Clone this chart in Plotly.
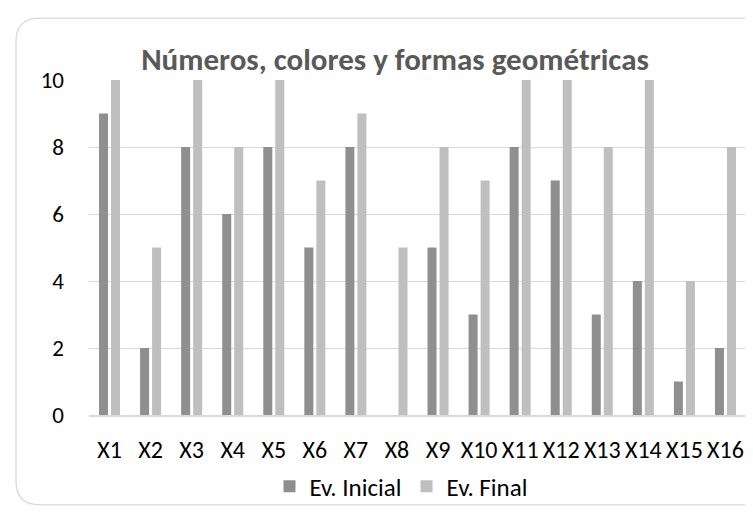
import plotly.graph_objects as go

categories = ["X1", "X2", "X3", "X4", "X5", "X6", "X7", "X8", "X9", "X10",
              "X11", "X12", "X13", "X14", "X15", "X16"]
ev_inicial = [9, 2, 8, 6, 8, 5, 8, 0, 5, 3, 8, 7, 3, 4, 1, 2]
ev_final = [10, 5, 10, 8, 10, 7, 9, 5, 8, 7, 10, 10, 8, 10, 4, 8]
y_ticks = [0, 2, 4, 6, 8, 10]

W, H = 753, 513
L, R, T, B = 81, 738, 72, 419

FONT = "Carlito, Lato, sans-serif"

def px(x):
    return (x - L) / (R - L)

def py(y):
    return (B - y) / (B - T)

fig = go.Figure()
fig.add_trace(go.Bar(x=categories, y=ev_inicial, name="Ev. Inicial",
                     marker=dict(color="#8f8f8f", line=dict(width=0))))
fig.add_trace(go.Bar(x=categories, y=ev_final, name="Ev. Final",
                     marker=dict(color="#bfbfbf", line=dict(width=0))))

# rounded chart border (right edge lies just outside the picture)
x0, y0, x1, y1, r = 8, 8, 770, 512, 24
path = (f"M {px(x0 + r)},{py(y0)} L {px(x1 - r)},{py(y0)} "
        f"Q {px(x1)},{py(y0)} {px(x1)},{py(y0 + r)} "
        f"L {px(x1)},{py(y1 - r)} Q {px(x1)},{py(y1)} {px(x1 - r)},{py(y1)} "
        f"L {px(x0 + r)},{py(y1)} Q {px(x0)},{py(y1)} {px(x0)},{py(y1 - r)} "
        f"L {px(x0)},{py(y0 + r)} Q {px(x0)},{py(y0)} {px(x0 + r)},{py(y0)} Z")

fig.update_layout(
    width=W, height=H,
    margin=dict(l=L, r=W - R, t=T, b=H - B),
    paper_bgcolor="white", plot_bgcolor="white",
    barmode="group", bargap=0.415, bargroupgap=0.25,
    font=dict(family=FONT, color="black", size=23),
    title=dict(text="<b>Números, colores y formas geométricas</b>",
               x=387 / W, xref="container", xanchor="center",
               y=1 - 51 / H, yref="container", yanchor="middle",
               font=dict(family=FONT, size=31, color="#595959")),
    legend=dict(orientation="h", x=px(393), xanchor="center",
                y=py(493), yanchor="middle",
                font=dict(family=FONT, size=25, color="black"),
                bgcolor="rgba(0,0,0,0)"),
    shapes=[dict(type="path", path=path, xref="paper", yref="paper",
                 line=dict(color="#d9d9d9", width=1.3), layer="below")],
    xaxis=dict(showgrid=False, showline=True, linecolor="#d9d9d9", linewidth=1.5,
               ticks="", ticklabelstandoff=12, tickfont=dict(size=24),
               fixedrange=True),
    yaxis=dict(range=[0, 10], tickvals=y_ticks, showgrid=True,
               gridcolor="#d9d9d9", gridwidth=1.3, zeroline=False,
               showline=False, ticks="", ticklabelstandoff=24,
               tickfont=dict(size=23), fixedrange=True),
)

fig.write_html("out.html")
